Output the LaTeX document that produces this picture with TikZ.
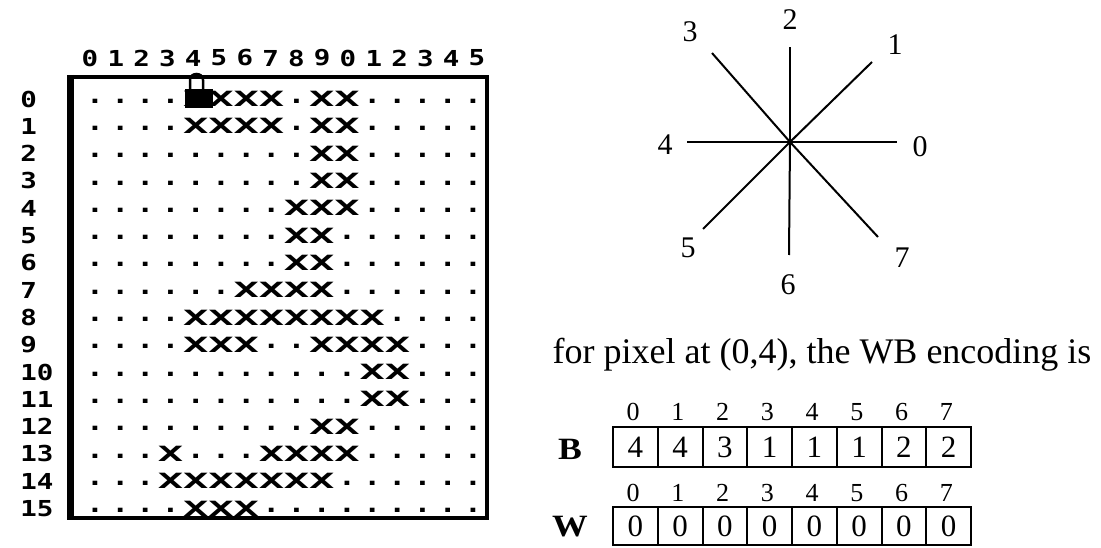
\documentclass[tikz,border=0pt]{standalone}
\usepackage{fontspec}
\setmainfont{Liberation Serif}
\newfontfamily\monof{DejaVu Sans Mono}
\tikzset{
  gx/.style={font=\monof\bfseries\fontsize{21}{21}\selectfont, inner sep=0pt, xscale=2.0},
  gdot/.style={font=\monof\bfseries\fontsize{24}{24}\selectfont, inner sep=0pt, xscale=1.2},
  lab/.style={font=\monof\bfseries\fontsize{22}{22}\selectfont, inner sep=0pt, xscale=1.25},
  thinline/.style={line width=2pt},
  snum/.style={font=\fontsize{30}{30}\selectfont, inner sep=0pt},
  cellbox/.style={draw, line width=2pt, minimum width=44.75pt, minimum height=40pt, inner sep=0pt, font=\fontsize{31}{31}\selectfont},
  hnum/.style={font=\fontsize{26}{26}\selectfont, inner sep=0pt},
  rlab/.style={font=\bfseries\fontsize{31}{31}\selectfont, inner sep=0pt, xscale=1.15},
}
\begin{document}
\begin{tikzpicture}[x=1pt,y=-1pt]
\useasboundingbox (0,0) rectangle (1101,548);
% grid box
\node[draw, line width=4pt, minimum width=415pt, minimum height=441pt, inner sep=0pt] (box) at (279.5,297.5) {};
\draw[line width=7pt] (box.north west) -- (box.south west);
% column labels
\foreach \c in {0,...,15} {
  \pgfmathtruncatemacro\d{mod(\c,10)}
  \node[lab] (cl\c) at ({90+25.8*\c},58) {\d};
}
% row labels
\foreach \r in {0,...,15} {
  \node[lab, anchor=west] (rl\r) at (20,{99+27.3*\r}) {\r};
}
% grid cells
\foreach \r/\xl in {0/{4,5,6,7,9,10},1/{4,5,6,7,9,10},2/{9,10},3/{9,10},4/{8,9,10},5/{8,9},6/{8,9},7/{6,7,8,9},8/{4,5,6,7,8,9,10,11},9/{4,5,6,9,10,11,12},10/{11,12},11/{11,12},12/{9,10},13/{3,7,8,9,10},14/{3,4,5,6,7,8,9},15/{4,5,6}} {
  \foreach \c in {0,...,15} {
    \gdef\isx{0}
    \foreach \k in \xl {\ifnum\k=\c\relax \gdef\isx{1}\fi}
    \ifnum\isx=1\relax
      \node[gx] (g\r-\c) at ({95+25.2*\c},{99+27.3*\r}) {X};
    \else
      \node[gdot] (g\r-\c) at ({95+25.2*\c},{101+27.3*\r}) {.};
    \fi
  }
}
% current pixel marker
\fill (185,89) rectangle (213,108);
\draw[line width=2.5pt] (190,89) -- (190,80) .. controls (190,72) and (203,72) .. (203,80) -- (203,89);
% star
\coordinate (sc) at (790,142);
\coordinate (s0) at (897,142);
\coordinate (s1) at (872,62);
\coordinate (s2) at (790,47);
\coordinate (s3) at (712,53);
\coordinate (s4) at (687,142);
\coordinate (s5) at (703,229);
\coordinate (s6) at (789,255);
\coordinate (s7) at (878,237);
\foreach \i in {0,...,7} \draw[thinline] (sc) -- (s\i);
\node[snum] (l0) at (920,147) {0};
\node[snum] (l1) at (895,45) {1};
\node[snum] (l2) at (790,20) {2};
\node[snum] (l3) at (690,32) {3};
\node[snum] (l4) at (665,145) {4};
\node[snum] (l5) at (688,248) {5};
\node[snum] (l6) at (788,285) {6};
\node[snum] (l7) at (902,258) {7};
% caption
\node[font=\fontsize{36}{36}\selectfont, inner sep=0pt] (cap) at (822,355) {for pixel at (0,4), the WB encoding is};
% tables
\node[rlab] (bl) at (570,449) {B};
\node[rlab] (wl) at (570,527) {W};
\foreach \v [count=\k from 0] in {4,4,3,1,1,1,2,2} {
  \node[hnum] (bh\k) at ({633+44.75*\k},412) {\k};
  \node[cellbox] (b\k) at ({635.4+44.75*\k},447) {\v};
}
\foreach \v [count=\k from 0] in {0,0,0,0,0,0,0,0} {
  \node[hnum] (wh\k) at ({633+44.75*\k},493) {\k};
  \node[cellbox, minimum height=38pt] (w\k) at ({635.4+44.75*\k},526) {\v};
}
\end{tikzpicture}
\end{document}
